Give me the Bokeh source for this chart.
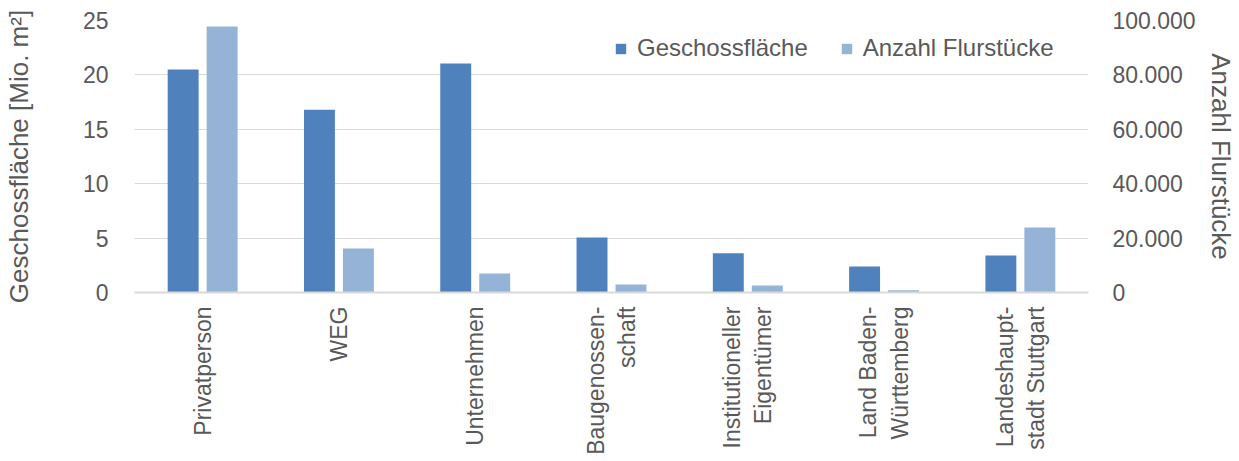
import math
from bokeh.plotting import figure
from bokeh.models import (Range1d, LinearAxis, FixedTicker, Legend, LegendItem,
                          FactorRange, ColumnDataSource)
from bokeh.transform import dodge
from bokeh.embed import file_html
from bokeh.resources import INLINE

categories = ["Privatperson", "WEG", "Unternehmen", "Baugenossen-\nschaft",
              "Institutioneller\nEigentümer", "Land Baden-\nWürttemberg",
              "Landeshaupt-\nstadt Stuttgart"]
geschossflaeche = [20.5, 16.8, 21.05, 5.05, 3.6, 2.4, 3.4]
flurstuecke = [97800, 16200, 7000, 2900, 2600, 800, 23900]
left_ticks = [0, 5, 10, 15, 20, 25]
right_ticks = [0, 20000, 40000, 60000, 80000, 100000]
right_tick_labels = ["0", "20.000", "40.000", "60.000", "80.000", "100.000"]
left_title = "Geschossfläche [Mio. m²]"
right_title = "Anzahl Flurstücke"

FONT = "Liberation Sans"
TXT = "#595959"
DARK = "#4F81BD"
LIGHT = "#95B3D7"
GRID = "#D9D9D9"

src = ColumnDataSource(dict(cat=categories, g=geschossflaeche, f=flurstuecke))

p = figure(width=1239, height=461, x_range=FactorRange(*categories),
           y_range=Range1d(0, 25), output_backend="svg", toolbar_location=None,
           min_border_left=132, min_border_right=151, min_border_top=20,
           min_border_bottom=169)
p.extra_y_ranges = {"right": Range1d(0, 100000)}
p.outline_line_color = None
p.background_fill_color = "white"

r1 = p.vbar(x=dodge("cat", -0.143, range=p.x_range), top="g", width=0.227,
            source=src, fill_color=DARK, line_color=None)
r2 = p.vbar(x=dodge("cat", 0.143, range=p.x_range), top="f", width=0.227,
            source=src, fill_color=LIGHT, line_color=None, y_range_name="right")

la = p.yaxis[0]
la.ticker = FixedTicker(ticks=left_ticks)
la.axis_label = left_title

ra = LinearAxis(y_range_name="right", ticker=FixedTicker(ticks=right_ticks),
                major_label_overrides={t: l for t, l in zip(right_ticks, right_tick_labels)},
                axis_label=right_title)
p.add_layout(ra, "right")

for ax in [la, ra]:
    ax.axis_line_color = None
    ax.major_tick_line_color = None
    ax.minor_tick_line_color = None
    ax.major_label_text_font = FONT
    ax.major_label_text_font_size = "23px"
    ax.major_label_text_color = TXT
    ax.axis_label_text_font = FONT
    ax.axis_label_text_font_size = "26px"
    ax.axis_label_text_color = TXT
    ax.axis_label_text_font_style = "normal"
la.major_label_standoff = 20
la.axis_label_standoff = 46
ra.major_label_standoff = 18
ra.axis_label_standoff = 7

xa = p.xaxis[0]
xa.axis_line_color = GRID
xa.axis_line_width = 2
xa.major_tick_line_color = None
xa.minor_tick_line_color = None
xa.major_label_orientation = math.pi / 2
xa.major_label_text_font = FONT
xa.major_label_text_font_size = "23px"
xa.major_label_text_color = TXT
xa.major_label_standoff = 8

p.xgrid.grid_line_color = None
p.ygrid.ticker = FixedTicker(ticks=left_ticks)
p.ygrid.grid_line_color = GRID
p.ygrid.grid_line_width = 1

legend = Legend(items=[LegendItem(label="Geschossfläche", renderers=[r1]),
                       LegendItem(label="Anzahl Flurstücke", renderers=[r2])],
                orientation="horizontal", location=(480, 230))
legend.label_text_font = FONT
legend.label_text_font_size = "24px"
legend.label_text_color = TXT
legend.glyph_width = 13
legend.glyph_height = 13
legend.label_standoff = 10
legend.spacing = 32
legend.padding = 0
legend.margin = 0
legend.border_line_color = None
legend.background_fill_alpha = 0
p.add_layout(legend)

open("out.html", "w").write(file_html(p, INLINE))
